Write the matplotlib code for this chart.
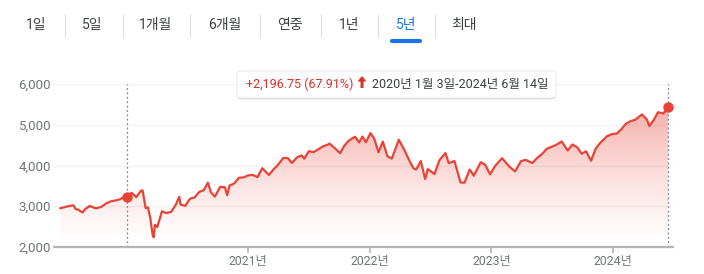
import numpy as np
import matplotlib
matplotlib.use("Agg")
from matplotlib import pyplot as plt
import matplotlib.dates as mdates
from matplotlib.patches import FancyBboxPatch

plt.rcParams['font.family'] = ['Roboto', 'Noto Sans CJK KR', 'DejaVu Sans']

# index level (roughly biweekly)
dates = ["2019-06-17", "2019-07-05", "2019-07-26", "2019-08-02", "2019-08-09", "2019-08-23",
         "2019-08-30", "2019-09-13", "2019-09-27", "2019-10-04", "2019-10-18", "2019-11-01",
         "2019-11-15", "2019-11-29", "2019-12-13", "2019-12-27", "2020-01-03", "2020-01-17",
         "2020-01-31", "2020-02-14", "2020-02-19", "2020-02-28", "2020-03-06", "2020-03-13",
         "2020-03-20", "2020-03-23", "2020-03-27", "2020-04-03", "2020-04-17", "2020-05-01",
         "2020-05-15", "2020-05-29", "2020-06-08", "2020-06-12", "2020-06-26", "2020-07-10",
         "2020-07-24", "2020-08-07", "2020-08-21", "2020-09-02", "2020-09-11", "2020-09-23",
         "2020-10-09", "2020-10-23", "2020-10-30", "2020-11-06", "2020-11-20", "2020-12-04",
         "2020-12-18", "2020-12-31", "2021-01-15", "2021-01-29", "2021-02-12", "2021-03-04",
         "2021-03-19", "2021-04-01", "2021-04-16", "2021-04-30", "2021-05-12", "2021-05-28",
         "2021-06-11", "2021-06-18", "2021-07-02", "2021-07-16", "2021-07-30", "2021-08-13",
         "2021-08-27", "2021-09-02", "2021-09-17", "2021-10-04", "2021-10-15", "2021-10-29",
         "2021-11-12", "2021-11-18", "2021-11-30", "2021-12-10", "2021-12-20", "2022-01-03",
         "2022-01-14", "2022-01-27", "2022-02-09", "2022-02-23", "2022-03-08", "2022-03-29",
         "2022-04-14", "2022-04-29", "2022-05-12", "2022-05-20", "2022-06-03", "2022-06-16",
         "2022-06-24", "2022-07-14", "2022-07-29", "2022-08-16", "2022-08-26", "2022-09-12",
         "2022-09-30", "2022-10-12", "2022-10-28", "2022-11-09", "2022-11-30", "2022-12-13",
         "2022-12-28", "2023-01-13", "2023-02-02", "2023-02-24", "2023-03-13", "2023-03-31",
         "2023-04-14", "2023-05-04", "2023-05-19", "2023-06-02", "2023-06-16", "2023-07-14",
         "2023-07-31", "2023-08-18", "2023-09-01", "2023-09-15", "2023-09-29", "2023-10-12",
         "2023-10-27", "2023-11-10", "2023-11-24", "2023-12-14", "2023-12-29", "2024-01-12",
         "2024-01-26", "2024-02-09", "2024-02-23", "2024-03-08", "2024-03-28", "2024-04-12",
         "2024-04-19", "2024-05-03", "2024-05-15", "2024-05-31", "2024-06-07", "2024-06-14"]
values = [2950, 2990, 3025, 2932, 2918, 2847,
          2926, 3007, 2961, 2952, 2986, 3066,
          3120, 3141, 3169, 3240, 3235, 3330,
          3225, 3380, 3386, 2954, 2972, 2711,
          2305, 2237, 2541, 2489, 2875, 2831,
          2864, 3044, 3232, 3041, 3009, 3185,
          3216, 3351, 3397, 3580, 3341, 3237,
          3477, 3465, 3270, 3509, 3558, 3699,
          3709, 3756, 3768, 3714, 3934, 3768,
          3913, 4020, 4185, 4181, 4063, 4204,
          4247, 4166, 4352, 4327, 4395, 4468,
          4509, 4537, 4433, 4300, 4471, 4605,
          4682, 4704, 4567, 4712, 4568, 4796,
          4663, 4326, 4587, 4225, 4170, 4631,
          4393, 4132, 3930, 3901, 4109, 3667,
          3912, 3790, 4130, 4305, 4058, 4110,
          3586, 3577, 3901, 3749, 4080, 4020,
          3783, 3999, 4179, 3970, 3855, 4109,
          4137, 4061, 4192, 4282, 4409, 4505,
          4589, 4369, 4515, 4450, 4288, 4349,
          4117, 4415, 4559, 4719, 4770, 4784,
          4891, 5026, 5089, 5124, 5254, 5123,
          4967, 5128, 5308, 5278, 5347, 5431]

tabs = ["1일", "5일", "1개월", "6개월", "연중", "1년", "5년", "최대"]
tab_x = [36, 92, 156, 225, 290, 349, 406, 464]
sep_x = [65, 123, 190, 260, 321, 378, 435]
selected_tab = "5년"

yticks = [2000, 3000, 4000, 5000, 6000]
year_ticks = ["2021-01-01", "2022-01-01", "2023-01-01", "2024-01-01"]
year_labels = ["2021년", "2022년", "2023년", "2024년"]
marked_date = "2020-01-03"
change_text = "+2,196.75 (67.91%)"
range_text = "2020년 1월 3일-2024년 6월 14일"

RED = "#ea4335"
GRAY = "#70757a"
W, H = 704, 274


def fx(px):
    return px / W


def fy(py):
    return 1 - py / H


x = mdates.date2num(np.array(dates, dtype="datetime64[D]"))
y = np.array(values, dtype=float)

fig = plt.figure(figsize=(W / 100, H / 100), dpi=100)

# chart area: baseline at y=247px, 6000 at y=84px, x 54..673 px
ax = fig.add_axes([fx(54), fy(247), (673 - 54) / W, (247 - 84) / H])
ax.set_xlim(mdates.date2num(np.datetime64("2019-05-29")), mdates.date2num(np.datetime64("2024-06-29")))
ax.set_ylim(2000, 6000)

for s in ["top", "right", "left"]:
    ax.spines[s].set_visible(False)
ax.spines["bottom"].set_color("#b4b4b4")
ax.spines["bottom"].set_linewidth(1.6)

for v in yticks[1:]:
    ax.axhline(v, color="#f3f3f3", lw=1.0, zorder=0)

ax.set_yticks(yticks)
ax.set_yticklabels(["{:,}".format(v) for v in yticks])
ax.tick_params(axis="y", length=0, pad=2, labelsize=9.5, labelcolor=GRAY)
ax.set_xticks(mdates.date2num(np.array(year_ticks, dtype="datetime64[D]")))
ax.set_xticklabels(year_labels)
ax.tick_params(axis="x", length=4, width=1.2, color="#b4b4b4", pad=2, labelsize=8.8, labelcolor=GRAY)

# gradient fill under the line
ymax = y.max()
grad = np.linspace(0, 1, 256).reshape(-1, 1)
rgba = np.zeros((256, 1, 4))
rgba[..., :3] = matplotlib.colors.to_rgb(RED)
rgba[..., 3] = 0.42 * grad ** 1.3
im = ax.imshow(rgba, aspect="auto", origin="lower",
               extent=[x[0], x[-1], 2000, ymax], zorder=1)
clip = plt.Polygon(np.column_stack([np.r_[x, x[-1], x[0]], np.r_[y, 2000, 2000]]),
                   transform=ax.transData, facecolor="none", edgecolor="none")
ax.add_patch(clip)
im.set_clip_path(clip)

ax.plot(x, y, color=RED, lw=1.6, zorder=3, solid_joinstyle="round")

mx = mdates.date2num(np.datetime64(marked_date))
my = np.interp(mx, x, y)
ax.plot([mx, x[-1]], [my, y[-1]], "o", color=RED, ms=6.5, zorder=4, lw=0)
ax.vlines([mx, x[-1]], 2000, 6000, colors="#80868b", linestyles=(0, (1.5, 2)), lw=0.9, zorder=2)

# tabs at top
for t, tx in zip(tabs, tab_x):
    c = "#1a73e8" if t == selected_tab else "#3c4043"
    fig.text(fx(tx), fy(25), t, ha="center", va="center", fontsize=10, color=c)
for sx in sep_x:
    fig.add_artist(plt.Line2D([fx(sx), fx(sx)], [fy(15), fy(37)], color="#dadce0", lw=0.8))
sel = tab_x[tabs.index(selected_tab)]
fig.add_artist(plt.Line2D([fx(sel - 14), fx(sel + 14)], [fy(41), fy(41)],
                          color="#1a73e8", lw=3, solid_capstyle="round"))

# tooltip box
shadow = FancyBboxPatch((fx(238), fy(99.5)), 318 / W, 27 / H,
                        boxstyle="round,pad=0,rounding_size=0.008", transform=fig.transFigure,
                        facecolor="#d0d0d0", edgecolor="none", alpha=0.6)
box = FancyBboxPatch((fx(237), fy(98)), 319 / W, 27 / H,
                     boxstyle="round,pad=0,rounding_size=0.008", transform=fig.transFigure,
                     facecolor="white", edgecolor="#e6e6e6", lw=0.6)
fig.add_artist(shadow)
fig.add_artist(box)
fig.text(fx(246), fy(84), change_text, ha="left", va="center", fontsize=9, color="#d93025")
# solid up arrow
arrow_px = [(362, 76), (366.5, 81.5), (363.5, 81.5), (363.5, 88), (360.5, 88), (360.5, 81.5), (357.5, 81.5)]
fig.add_artist(plt.Polygon([(fx(a), fy(b)) for a, b in arrow_px], closed=True,
                           transform=fig.transFigure, facecolor="#d93025", edgecolor="none"))
fig.text(fx(372), fy(84), range_text, ha="left", va="center", fontsize=9, color="#3c4043")

fig.savefig("out.png", dpi=100)
